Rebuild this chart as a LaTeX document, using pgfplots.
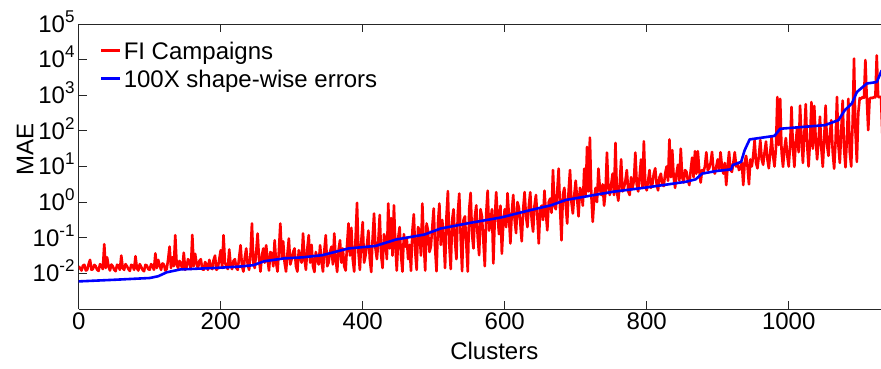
\documentclass[border=0pt]{standalone}
\usepackage{fontspec}
\setmainfont{Liberation Sans}
\usepackage{pgfplots}
\pgfplotsset{compat=1.18}
\usepackage{pgfplotstable}

% red series: x, log10(MAE)
\pgfplotstableread{
x l
0 -1.80
2 -1.86
4 -1.92
6 -1.78
8 -1.76
10 -1.92
12 -1.90
14 -1.74
16 -1.62
18 -1.90
20 -1.88
22 -1.76
24 -1.80
26 -1.90
28 -1.93
30 -1.74
32 -1.78
34 -1.88
36 -1.18
38 -1.85
40 -1.55
42 -1.80
44 -1.92
46 -1.75
48 -1.80
50 -1.90
52 -1.94
54 -1.76
56 -1.78
58 -1.90
60 -1.50
62 -1.85
64 -1.90
66 -1.74
68 -1.80
70 -1.88
72 -1.93
74 -1.76
76 -1.78
78 -1.90
80 -1.52
82 -1.86
84 -1.92
86 -1.74
88 -1.82
90 -1.90
92 -1.94
94 -1.76
96 -1.78
98 -1.88
100 -1.90
102 -1.74
104 -1.80
106 -1.90
108 -1.44
110 -1.85
112 -1.62
114 -1.78
116 -1.90
118 -1.72
120 -1.75
122 -1.92
124 -1.88
126 -1.60
128 -1.25
130 -1.85
132 -1.55
134 -1.80
136 -0.93
138 -1.75
140 -1.85
142 -1.65
144 -1.75
146 -1.88
148 -1.42
150 -1.90
152 -1.82
154 -1.60
156 -1.70
158 -1.88
160 -0.92
162 -1.80
164 -1.45
166 -1.72
168 -1.85
170 -1.65
172 -1.60
174 -1.88
176 -1.90
178 -1.68
180 -1.75
182 -1.90
184 -1.62
186 -1.80
188 -1.88
190 -1.62
192 -1.50
194 -1.90
196 -1.85
198 -1.60
200 -1.35
202 -1.85
204 -0.93
206 -1.70
208 -1.80
210 -1.88
212 -1.33
214 -1.75
216 -1.88
218 -1.65
220 -1.60
222 -1.85
224 -1.90
226 -1.55
228 -1.21
230 -1.80
232 -1.95
234 -1.55
236 -1.30
238 -1.75
240 -1.90
242 -1.45
244 -0.60
246 -1.70
248 -1.85
250 -1.40
252 -0.88
254 -1.60
256 -1.95
258 -1.50
260 -1.30
262 -1.70
264 -1.21
266 -1.60
268 -1.92
270 -1.40
272 -1.45
274 -1.80
276 -1.07
278 -1.70
280 -1.95
282 -1.35
284 -0.60
286 -1.55
288 -1.10
290 -1.70
292 -1.95
294 -1.45
296 -1.02
298 -1.75
300 -1.60
302 -1.40
304 -1.30
306 -1.80
308 -1.95
310 -1.35
312 -1.55
314 -1.70
316 -0.88
318 -1.60
320 -1.90
322 -1.30
324 -0.93
326 -1.70
328 -1.20
330 -1.80
332 -1.96
334 -1.40
336 -1.60
338 -1.75
340 -1.21
342 -1.65
344 -1.95
346 -1.35
348 -0.93
350 -1.80
352 -1.70
354 -1.40
356 -1.25
358 -1.75
360 -0.88
362 -1.60
364 -1.96
366 -1.35
368 -1.07
370 -1.70
372 -1.30
374 -1.80
376 -1.92
378 -1.20
380 -0.60
382 -1.50
384 -0.72
386 -1.60
388 -1.95
390 -1.00
392 -0.02
394 -1.40
396 -1.90
398 -1.10
400 -0.56
402 -1.70
404 -1.50
406 -1.20
408 -0.80
410 -1.60
412 -1.96
414 -1.00
416 -0.32
418 -1.30
420 -1.60
422 -1.10
424 -0.36
426 -1.50
428 -1.85
430 -0.90
432 -1.05
434 -1.60
436 -0.04
438 -1.30
440 -0.45
442 -1.50
444 -0.09
446 -1.20
448 -1.92
450 -1.00
452 -0.70
454 -1.50
456 -1.95
458 -0.90
460 -1.25
462 -1.00
464 -1.60
466 -1.20
468 -1.93
470 -0.80
472 -0.34
474 -1.40
476 -1.90
478 -0.70
480 -0.80
482 -1.50
484 -0.04
486 -1.10
488 -1.92
490 -0.60
492 -0.80
494 -1.40
496 -1.25
498 -0.70
500 -0.18
502 -1.30
504 -1.94
506 -0.60
508 -0.04
510 -1.20
512 -0.50
514 -1.00
516 -1.85
518 -0.40
520 0.31
522 -1.20
524 -1.88
526 -0.50
528 -0.20
530 -1.10
532 -1.60
534 -0.30
536 0.24
538 -1.00
540 -1.94
542 -0.50
544 -0.40
546 -1.20
548 -1.95
550 -0.20
552 0.26
554 -0.90
556 -1.30
558 -0.40
560 -0.09
562 -1.00
564 -1.49
566 -0.20
568 -0.40
570 -1.10
572 -1.80
574 -0.30
576 0.32
578 -0.80
580 -0.60
582 -0.20
584 -1.72
586 -0.50
588 0.28
590 -0.40
592 -0.90
594 -0.10
596 -1.45
598 -0.60
600 -0.20
602 -0.70
604 0.25
606 -0.40
608 -1.16
610 -0.30
612 0.20
614 -0.50
616 -0.87
618 0.00
620 -0.15
622 -0.60
624 -1.10
626 -0.20
628 0.28
630 -0.40
632 -0.70
634 -0.10
636 0.28
638 -0.50
640 -0.83
642 -0.10
644 0.20
646 -0.40
648 -1.16
650 -0.20
652 -0.10
654 -0.50
656 0.32
658 -0.30
660 -0.79
662 0.00
664 0.10
666 -0.30
668 0.90
670 -0.10
672 -0.20
674 0.30
676 0.94
678 -0.20
680 -1.07
682 0.20
684 0.40
686 -0.10
688 -0.60
690 0.30
692 0.90
694 0.00
696 -0.32
698 0.20
700 0.60
702 0.10
704 -0.40
706 0.40
708 0.30
710 -0.10
712 0.94
714 0.20
716 1.55
718 0.30
720 1.81
722 0.20
724 -0.55
726 0.10
728 0.40
730 0.00
732 0.94
734 0.40
736 0.20
738 0.50
740 -0.10
742 0.30
744 1.39
746 0.40
748 0.20
750 0.50
752 0.80
754 0.20
756 1.66
758 0.30
760 0.04
762 0.50
764 1.20
766 0.30
768 0.40
770 0.60
772 0.90
774 0.30
776 0.20
778 0.70
780 0.40
782 0.60
784 1.39
786 0.50
788 0.30
790 0.70
792 1.20
794 0.40
796 1.71
798 0.50
800 0.33
802 0.60
804 0.90
806 0.40
808 0.50
810 0.80
812 0.95
814 0.50
816 0.33
818 0.70
820 0.80
822 0.50
824 0.45
826 0.80
828 1.00
830 0.60
832 1.76
834 0.70
836 1.46
838 0.70
840 0.40
842 0.80
844 1.05
846 0.60
848 1.50
850 0.70
852 0.55
854 0.90
856 0.85
858 0.60
860 0.48
862 0.90
864 1.25
866 0.70
868 1.43
870 0.80
872 1.43
874 0.90
876 0.55
878 0.90
880 0.85
882 1.00
884 1.40
886 0.90
888 0.95
890 1.10
892 1.41
894 0.90
896 0.80
898 1.00
900 1.20
902 0.90
904 1.40
906 1.00
908 0.80
910 1.10
912 0.48
914 1.00
916 1.41
918 0.90
920 0.85
922 1.10
924 1.40
926 1.00
928 1.10
930 0.90
932 0.95
934 1.10
936 0.48
938 1.10
940 1.30
942 1.00
944 0.50
946 1.20
948 1.00
950 1.30
952 1.74
954 1.10
956 0.95
958 1.30
960 1.74
962 1.20
964 1.05
966 1.40
968 1.70
970 1.20
972 0.95
974 1.40
976 1.83
978 1.30
980 1.00
982 1.50
984 2.95
986 1.60
988 2.90
990 1.40
992 0.99
994 1.50
996 1.80
998 1.30
1000 1.00
1002 1.60
1004 2.67
1006 1.50
1008 0.99
1010 1.70
1012 2.10
1014 1.40
1016 2.71
1018 1.80
1020 1.10
1022 1.90
1024 2.75
1026 1.60
1028 1.00
1030 1.70
1032 2.81
1034 1.50
1036 2.70
1038 1.80
1040 1.20
1042 1.70
1044 2.40
1046 1.50
1048 0.99
1050 1.80
1052 2.71
1054 1.60
1056 1.30
1058 1.90
1060 2.30
1062 1.40
1064 0.94
1066 1.70
1068 2.95
1070 1.60
1072 1.10
1074 2.00
1076 2.85
1078 1.50
1080 0.98
1082 1.80
1084 2.90
1086 1.40
1088 1.00
1090 2.20
1092 4.03
1094 2.00
1096 1.13
1098 2.50
1100 2.92
1102 2.90
1104 2.95
1106 2.93
1108 3.99
1110 2.90
1112 2.02
1114 2.90
1116 2.93
1118 2.92
1120 2.95
1122 2.94
1124 4.12
1126 2.95
1128 2.95
1130 2.95
1132 1.83
}\redtable

% blue series: x, log10(100X shape-wise error)
\pgfplotstableread{
x l
0 -2.225
50 -2.18
100 -2.13
112 -2.08
124 -1.97
143 -1.89
200 -1.84
226 -1.81
246 -1.77
261 -1.66
289 -1.58
315 -1.55
343 -1.49
380 -1.30
418 -1.23
447 -1.05
487 -0.91
510 -0.74
552 -0.58
595 -0.43
637 -0.22
665 -0.09
686 0.06
752 0.29
799 0.41
855 0.57
869 0.64
878 0.80
897 0.87
919 0.92
921 1.04
933 1.13
938 1.46
945 1.76
980 1.86
988 2.06
1051 2.16
1070 2.30
1079 2.58
1089 2.77
1096 3.09
1110 3.33
1124 3.37
1131 3.70
}\bluetable

\begin{document}
\begin{tikzpicture}
\begin{axis}[
  name=ax,
  scale only axis,
  width=802.3pt, height=285pt,
  xmin=0, xmax=1130,
  ymode=log, ymin=1e-3, ymax=1e5,
  axis x line*=box, axis y line*=left,
  tick align=inside,
  major tick length=8pt,
  yminorticks=false,
  xtick={0,200,400,600,800,1000},
  xticklabels={0,200,400,600,800,1000},
  ytick={1e-2,1e-1,1,10,100,1e3,1e4,1e5},
  yticklabels={
    10\smash{\raisebox{10pt}{\fontsize{17}{17}\selectfont -2}},
    10\smash{\raisebox{10pt}{\fontsize{17}{17}\selectfont -1}},
    10\smash{\raisebox{10pt}{\fontsize{17}{17}\selectfont 0}},
    10\smash{\raisebox{10pt}{\fontsize{17}{17}\selectfont 1}},
    10\smash{\raisebox{10pt}{\fontsize{17}{17}\selectfont 2}},
    10\smash{\raisebox{10pt}{\fontsize{17}{17}\selectfont 3}},
    10\smash{\raisebox{10pt}{\fontsize{17}{17}\selectfont 4}},
    10\smash{\raisebox{10pt}{\fontsize{17}{17}\selectfont 5}}},
  tick label style={font=\fontsize{24}{28}\selectfont},
  yticklabel style={inner xsep=4pt},
  axis line style={line width=1pt, black!85},
  tick style={line width=0.8pt, black!85},
  label style={font=\fontsize{24}{28}\selectfont},
  xlabel={Clusters},
  xlabel style={at={(axis description cs:0.518,0)}, anchor=north, yshift=-33pt, inner ysep=0pt},
  ylabel={MAE},
  ylabel style={at={(axis description cs:-0.052,0.558)}, anchor=south},
  legend style={draw=none, fill=none, at={(axis description cs:0.0265,0.947)}, anchor=north west,
    inner sep=0pt, row sep=0pt, font=\fontsize{24}{28}\selectfont,
    nodes={inner xsep=2pt, inner ysep=2pt, text height=18pt, text depth=6pt}},
  legend cell align=left,
  legend image code/.code={\draw[#1] (0pt,3pt) -- (19pt,3pt);},
  clip=true,
]
\addplot[color=red, line width=2.6pt, line join=round] table[x=x, y expr={10^(\thisrow{l})}] {\redtable};
\addlegendentry{FI Campaigns}
\addplot[color=blue, line width=2.6pt, line join=round] table[x=x, y expr={10^(\thisrow{l})}] {\bluetable};
\addlegendentry{100X shape-wise errors}
\end{axis}
\pgfresetboundingbox
\path[use as bounding box] ([xshift=-78.7pt,yshift=-60pt]ax.south west) rectangle ([yshift=24pt]ax.north east);
\end{tikzpicture}
\end{document}
